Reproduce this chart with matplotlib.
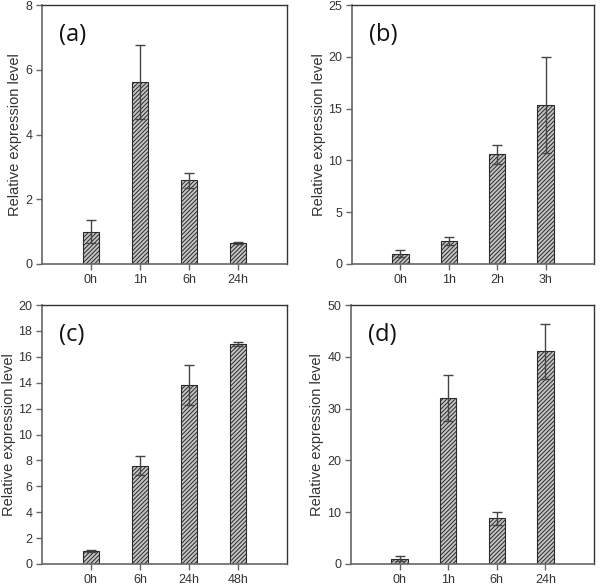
import matplotlib

matplotlib.use("Agg")
import matplotlib.pyplot as plt
import numpy as np

plt.rcParams["font.family"] = ["Liberation Sans", "DejaVu Sans"]
plt.rcParams["hatch.linewidth"] = 0.7

# panel data: labels, means, error (symmetric)
labels_a = ["0h", "1h", "6h", "24h"]
means_a = [1.0, 5.62, 2.58, 0.65]
err_a = [0.35, 1.15, 0.23, 0.04]

labels_b = ["0h", "1h", "2h", "3h"]
means_b = [1.0, 2.2, 10.6, 15.35]
err_b = [0.35, 0.4, 0.9, 4.6]

labels_c = ["0h", "6h", "24h", "48h"]
means_c = [1.0, 7.6, 13.8, 17.0]
err_c = [0.08, 0.75, 1.55, 0.15]

labels_d = ["0h", "1h", "6h", "24h"]
means_d = [1.0, 32.1, 8.8, 41.1]
err_d = [0.5, 4.4, 1.3, 5.3]

panels = [
    ("(a)", labels_a, means_a, err_a, 8, [0, 2, 4, 6, 8], [42, 5, 245, 259]),
    ("(b)", labels_b, means_b, err_b, 25, [0, 5, 10, 15, 20, 25], [352, 5, 242, 259]),
    ("(c)", labels_c, means_c, err_c, 20, list(range(0, 21, 2)), [42, 305, 245, 259]),
    ("(d)", labels_d, means_d, err_d, 50, [0, 10, 20, 30, 40, 50], [351, 305, 243, 259]),
]

W, H = 600, 586
fig = plt.figure(figsize=(W / 100, H / 100), dpi=100)

for tag, labels, means, err, ymax, yticks, (px, py, pw, ph) in panels:
    ax = fig.add_axes([px / W, 1 - (py + ph) / H, pw / W, ph / H])
    x = np.arange(1, len(labels) + 1)
    ax.bar(x, means, width=0.34, color="#c4c4c4", edgecolor="#2a2a2a",
           linewidth=0.8, hatch="////////", zorder=2)
    ax.errorbar(x, means, yerr=err, fmt="none", ecolor="#444444",
                elinewidth=1.0, capsize=3.5, capthick=1.0, zorder=3)
    ax.set_xlim(0, 5)
    ax.set_ylim(0, ymax)
    ax.set_xticks(x)
    ax.set_xticklabels(labels)
    ax.set_yticks(yticks)
    ax.tick_params(direction="out", length=4, width=1, color="#666666",
                   labelcolor="#333333", labelsize=9, pad=3)
    for side in ("left", "bottom"):
        ax.spines[side].set_color("#666666")
        ax.spines[side].set_linewidth(1.2)
    for side in ("top", "right"):
        ax.spines[side].set_color("#333333")
        ax.spines[side].set_linewidth(1.0)
    ax.set_ylabel("Relative expression level", fontsize=10.5, color="#333333", labelpad=2)
    ax.text(0.07, 0.93, tag, transform=ax.transAxes, fontsize=17,
            va="top", ha="left", color="#111111",
            family=["Open Sans", "DejaVu Sans"])

fig.savefig("out.png", dpi=100)
